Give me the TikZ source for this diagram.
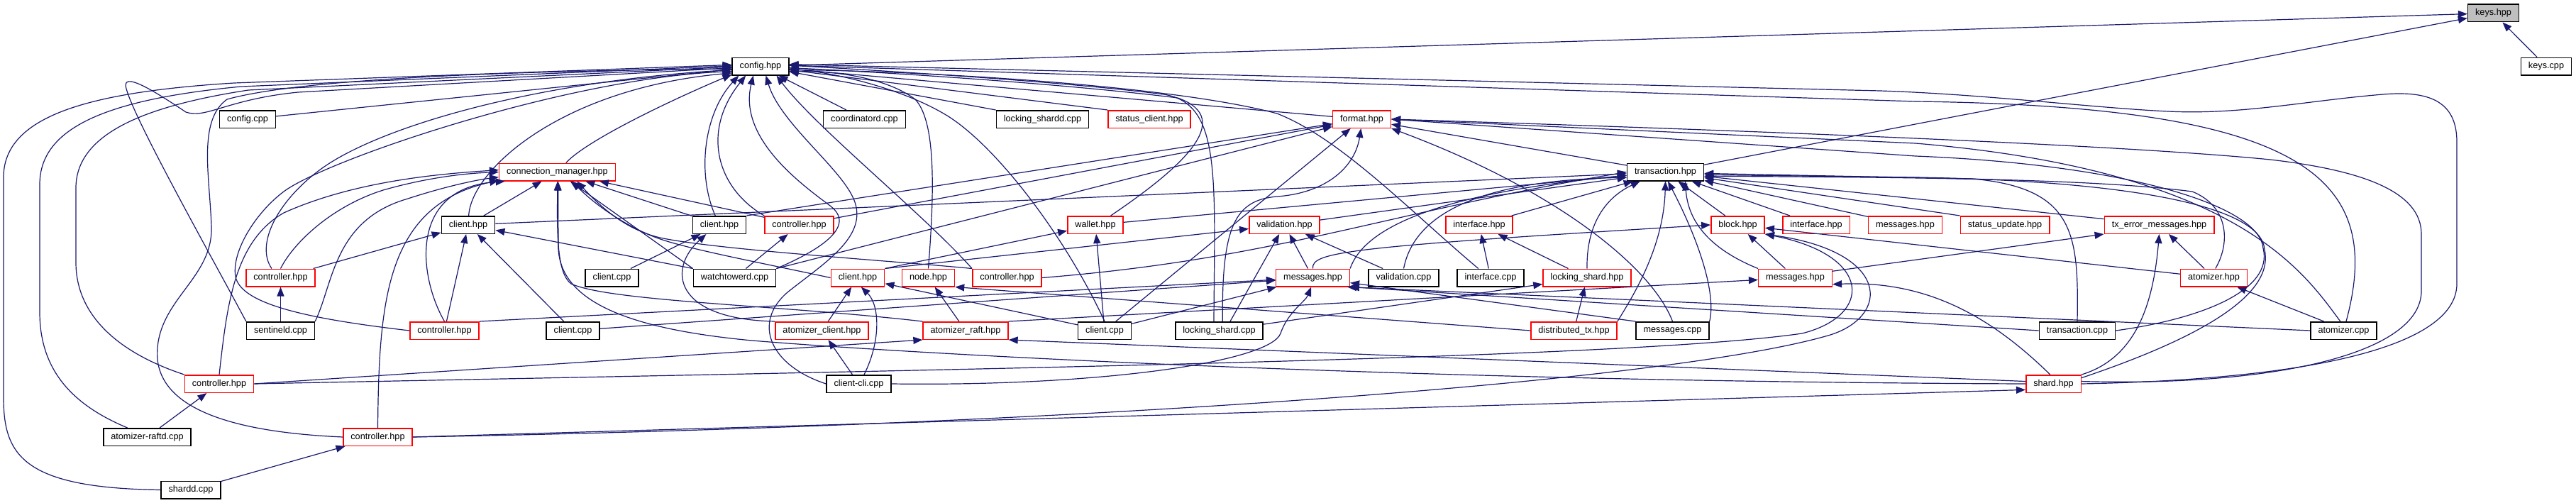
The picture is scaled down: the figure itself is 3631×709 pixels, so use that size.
\documentclass[tikz,border=0pt]{standalone}
\usepackage{fontspec}
\setmainfont{Liberation Sans}
\usepackage{tikz}
\usetikzlibrary{arrows.meta}
\definecolor{EdgeNavy}{HTML}{191970}
\definecolor{TruncRed}{HTML}{FF0000}
\definecolor{FocusGray}{HTML}{BFBFBF}
\newcommand{\filefont}{\fontsize{12.7pt}{15pt}\selectfont}

\begin{document}
\begin{tikzpicture}[
  x=1pt, y=-1pt,
  file/.style={draw=black, line width=1.5pt, fill=white, minimum height=24.5pt,
    inner xsep=10.5pt, inner ysep=0pt, font=\filefont},
  partial/.style={file, draw=TruncRed},
  focus/.style={file, fill=FocusGray},
  dep/.style={-{Triangle[length=13pt,width=10pt]}, line width=1.2pt, draw=EdgeNavy}
]
\path[fill=white, use as bounding box] (0,0) rectangle (3631,709);

\node[focus] (keyshpp) at (3514.5,18.5) {keys.hpp};
\node[file] (confighpp) at (1072,93.5) {config.hpp};
\node[file] (keyscpp) at (3589,93.5) {keys.cpp};

\node[file] (configcpp) at (349,168) {config.cpp};
\node[file] (coordcpp) at (1218.5,168) {coordinatord.cpp};
\node[file] (lshardd) at (1469.5,168) {locking\_shardd.cpp};
\node[partial] (statcli) at (1620,168) {status\_client.hpp};
\node[partial] (formathpp) at (1919.5,168) {format.hpp};

\node[partial] (connmgr) at (785.5,242.5) {connection\_manager.hpp};
\node[file] (txhpp) at (2347.5,242.5) {transaction.hpp};

\node[file] (clienta) at (660,317) {client.hpp};
\node[file] (clientb) at (1014,317) {client.hpp};
\node[partial] (ctrla) at (1126.5,317) {controller.hpp};
\node[partial] (wallet) at (1544,317) {wallet.hpp};
\node[partial] (valhpp) at (1810.5,317) {validation.hpp};
\node[partial] (ifacea) at (2085,317) {interface.hpp};
\node[partial] (blockhpp) at (2449.5,317) {block.hpp};
\node[partial] (ifaceb) at (2560,317) {interface.hpp};
\node[partial] (msga) at (2685.5,317) {messages.hpp};
\node[partial] (statupd) at (2826,317) {status\_update.hpp};
\node[partial] (txerr) at (3043.5,317) {tx\_error\_messages.hpp};

\node[partial] (ctrlb) at (395.5,391.5) {controller.hpp};
\node[file] (clicppa) at (862.5,391.5) {client.cpp};
\node[file] (watchcpp) at (1035.5,391.5) {watchtowerd.cpp};
\node[partial] (clientc) at (1209,391.5) {client.hpp};
\node[partial] (nodehpp) at (1308.5,391.5) {node.hpp};
\node[partial] (ctrlc) at (1419.5,391.5) {controller.hpp};
\node[partial] (msgb) at (1850.5,391.5) {messages.hpp};
\node[file] (valcpp) at (1978.5,391.5) {validation.cpp};
\node[file] (ifacecpp) at (2101,391.5) {interface.cpp};
\node[partial] (lshardhpp) at (2237,391.5) {locking\_shard.hpp};
\node[partial] (msgc) at (2530.5,391.5) {messages.hpp};
\node[partial] (atomhpp) at (3120.5,391.5) {atomizer.hpp};

\node[file] (sentcpp) at (395.5,466) {sentineld.cpp};
\node[partial] (ctrld) at (626.5,466) {controller.hpp};
\node[file] (clicppb) at (807.5,466) {client.cpp};
\node[partial] (atomcli) at (1158.5,466) {atomizer\_client.hpp};
\node[partial] (atomraft) at (1361,466) {atomizer\_raft.hpp};
\node[file] (clicppc) at (1557,466) {client.cpp};
\node[file] (lshardcpp) at (1718.5,466) {locking\_shard.cpp};
\node[partial] (disttx) at (2218.5,466) {distributed\_tx.hpp};
\node[file] (msgcpp) at (2357.5,466) {messages.cpp};
\node[file] (txcpp) at (2928,466) {transaction.cpp};
\node[file] (atomcpp) at (3303.5,466) {atomizer.cpp};

\node[partial] (ctrle) at (309,541) {controller.hpp};
\node[file] (clicli) at (1210.5,541) {client-cli.cpp};
\node[partial] (shardhpp) at (2894.5,541) {shard.hpp};

\node[file] (raftdcpp) at (207.5,616) {atomizer-raftd.cpp};
\node[partial] (ctrlf) at (532.5,616) {controller.hpp};

\node[file] (sharddcpp) at (269,690.5) {shardd.cpp};

% keys.hpp
\draw[dep] (keyscpp) -- (keyshpp);
\draw[dep] (confighpp) -- (keyshpp);
\draw[dep] (txhpp) -- (keyshpp);

% config.hpp
\draw[dep] (configcpp) -- (confighpp);
\draw[dep] (coordcpp) -- (confighpp);
\draw[dep] (lshardd.north west) -- (confighpp);
\draw[dep] (statcli.north west) -- (confighpp);
\draw[dep] (formathpp) -- (confighpp);
\draw[dep] (connmgr) .. controls (830,195) and (960,135) .. (confighpp.196);
\draw[dep] (clienta) .. controls (664,240) and (790,125) .. (confighpp.193);
\draw[dep] (clientb) .. controls (982,245) and (992,160) .. (confighpp.203);
\draw[dep] (ctrla.north west) .. controls (1010,265) and (988,185) .. (confighpp.212);
\draw[dep] (watchcpp.north east) .. controls (1150,355) and (1210,320) .. (1170,290)
  .. controls (1130,260) and (1040,195) .. (confighpp.232);
\draw[dep] (clicli.west) .. controls (1085,515) and (1060,455) .. (1110,412)
  .. controls (1160,372) and (1222,335) .. (1205,285)
  .. controls (1190,240) and (1100,175) .. (confighpp.300);
\draw[dep] (ctrlc.north west) .. controls (1300,300) and (1150,180) .. (confighpp.330);
\draw[dep] (nodehpp.north) .. controls (1318,260) and (1318,170) .. (1290,140)
  .. controls (1250,110) and (1180,100) .. (confighpp.350);
\draw[dep] (clicppc.north) .. controls (1500,330) and (1400,200) .. (1330,160)
  .. controls (1270,125) and (1180,103) .. (confighpp.355);
\draw[dep] (lshardcpp.120) .. controls (1712,250) and (1722,145) .. (1640,133)
  .. controls (1500,115) and (1250,100) .. (confighpp.2);
\draw[dep] (wallet.31) .. controls (1660,240) and (1745,168) .. (1660,138)
  .. controls (1500,118) and (1250,102) .. (confighpp.357);
\draw[dep] (ifacecpp.143) .. controls (1990,300) and (1890,195) .. (1800,160)
  .. controls (1650,120) and (1300,100) .. (confighpp.353);
\draw[dep] (shardhpp.east) .. controls (3250,535) and (3463,490) .. (3463,400) -- (3463,200)
  .. controls (3463,140) and (3420,128) .. (3359,133)
  .. controls (3250,142) and (3160,162) .. (3056,157)
  .. controls (2950,152) and (2800,133) .. (2650,128) -- (confighpp.4);
\draw[dep] (atomcpp.75) .. controls (3362,250) and (3250,150) .. (2700,143) -- (confighpp.2);
\draw[dep] (sharddcpp.west) .. controls (30,688) and (5,640) .. (5,560) -- (5,250)
  .. controls (5,165) and (120,130) .. (330,117) -- (confighpp.177);
\draw[dep] (raftdcpp.155) .. controls (100,570) and (56,520) .. (56,440) -- (56,260)
  .. controls (56,180) and (150,140) .. (340,122) -- (confighpp.179);
\draw[dep] (ctrle.north west) .. controls (160,495) and (107,440) .. (107,370) -- (107,265)
  .. controls (107,190) and (200,150) .. (350,127) -- (confighpp.181);
\draw[dep] (sentcpp.north west) .. controls (300,365) and (190,170) .. (178,125)
  .. controls (170,98) and (220,130) .. (262,158)
  .. controls (290,168) and (320,140) .. (420,130) -- (confighpp.183);
\draw[dep] (ctrlf.west) .. controls (300,608) and (215,565) .. (222,490)
  .. controls (228,420) and (300,390) .. (298,320)
  .. controls (296,250) and (278,170) .. (320,140)
  .. controls (420,112) and (700,100) .. (confighpp.185);
\draw[dep] (ctrlb.134) .. controls (360,345) and (390,285) .. (450,240)
  .. controls (530,180) and (750,115) .. (confighpp.187);
\draw[dep] (ctrld.west) .. controls (440,450) and (340,430) .. (332,390)
  .. controls (326,355) and (360,300) .. (400,270)
  .. controls (460,225) and (800,110) .. (confighpp.190);

% format.hpp
\draw[dep] (txhpp) -- (formathpp);
\draw[dep] (clientb.north east) -- (formathpp);
\draw[dep] (ctrla) -- (formathpp);
\draw[dep] (watchcpp.north east) -- (formathpp);
\draw[dep] (clicppc) -- (formathpp);
\draw[dep] (lshardcpp.70) .. controls (1722,320) and (1740,282) .. (1800,277)
  .. controls (1870,272) and (1910,235) .. (formathpp.265);
\draw[dep] (msgcpp.north) .. controls (2330,380) and (2200,270) .. (formathpp.south east);
\draw[dep] (shardhpp.5) .. controls (3200,545) and (3413,500) .. (3413,410) -- (3413,330)
  .. controls (3413,270) and (3330,240) .. (3200,225)
  .. controls (3000,205) and (2500,185) .. (formathpp.east);
\draw[dep] (atomcpp.110) .. controls (3245,380) and (3150,240) .. (2700,202) -- (formathpp.east);
\draw[dep] (txcpp.east) .. controls (3100,450) and (3205,410) .. (3190,350)
  .. controls (3185,290) and (3000,232) .. (2700,220) -- (formathpp.east);

% connection_manager.hpp
\draw[dep] (clienta) -- (connmgr);
\draw[dep] (clientb) -- (connmgr);
\draw[dep] (ctrla) -- (connmgr);
\draw[dep] (watchcpp.north west) -- (connmgr);
\draw[dep] (clientc.west) .. controls (1080,372) and (990,355) .. (940,340)
  .. controls (890,325) and (840,290) .. (connmgr.328);
\draw[dep] (ctrlc.north west) .. controls (1250,367) and (1010,352) .. (930,335)
  .. controls (880,323) and (845,290) .. (connmgr.335);
\draw[dep] (sentcpp.north east) .. controls (470,400) and (470,310) .. (575,280)
  .. controls (630,262) and (675,253) .. (connmgr.185);
\draw[dep] (ctrlb.north) .. controls (415,340) and (470,290) .. (540,268)
  .. controls (610,248) and (665,244) .. (connmgr.west);
\draw[dep] (ctrle.north) .. controls (320,430) and (330,340) .. (400,300)
  .. controls (500,255) and (620,245) .. (connmgr.178);
\draw[dep] (ctrld.north) .. controls (590,390) and (575,265) .. (connmgr.190);
\draw[dep] (ctrlf.north) .. controls (534,420) and (545,290) .. (connmgr.188);
\draw[dep] (atomraft.north west) .. controls (1100,430) and (860,425) .. (805,400)
  .. controls (785,385) and (785,330) .. (connmgr.272);
\draw[dep] (shardhpp.west) .. controls (2000,538) and (1300,500) .. (1060,480)
  .. controls (900,465) and (790,430) .. (787,350) -- (connmgr.275);

% transaction.hpp
\draw[dep] (clienta) -- (txhpp);
\draw[dep] (wallet) -- (txhpp);
\draw[dep] (valhpp) -- (txhpp);
\draw[dep] (ifacea) -- (txhpp);
\draw[dep] (ctrlc.east) .. controls (1800,365) and (1950,300) .. (txhpp.west);
\draw[dep] (msgb.north east) .. controls (1920,330) and (2000,275) .. (txhpp.185);
\draw[dep] (valcpp.north) .. controls (1990,320) and (2050,255) .. (txhpp.188);
\draw[dep] (lshardhpp.north) .. controls (2236,320) and (2260,280) .. (txhpp.200);
\draw[dep] (disttx.north east) .. controls (2300,420) and (2345,350) .. (txhpp.south);
\draw[dep] (msgcpp.north east) .. controls (2420,410) and (2390,330) .. (txhpp.285);
\draw[dep] (blockhpp) -- (txhpp);
\draw[dep] (msgc.north west) .. controls (2420,355) and (2380,320) .. (txhpp.335);
\draw[dep] (ifaceb) -- (txhpp);
\draw[dep] (msga) -- (txhpp);
\draw[dep] (statupd.north west) -- (txhpp);
\draw[dep] (txerr) -- (txhpp);
\draw[dep] (atomhpp.80) .. controls (3145,340) and (3140,290) .. (3090,270)
  .. controls (2950,252) and (2700,250) .. (txhpp.354);
\draw[dep] (txcpp.north) .. controls (2930,330) and (2925,265) .. (2780,252) -- (txhpp.358);
\draw[dep] (shardhpp.12) .. controls (3120,470) and (3205,410) .. (3192,352)
  .. controls (3188,290) and (3000,255) .. (2700,250) -- (txhpp.356);

% client.hpp, controller.hpp, wallet.hpp, validation.hpp, interface.hpp
\draw[dep] (ctrlb) -- (clienta);
\draw[dep] (ctrld) -- (clienta);
\draw[dep] (clicppb) -- (clienta);
\draw[dep] (watchcpp.north west) -- (clienta);
\draw[dep] (clicppa) -- (clientb);
\draw[dep] (atomcli.north west) .. controls (950,450) and (940,380) .. (clientb.215);
\draw[dep] (watchcpp) -- (ctrla);
\draw[dep] (clientc.north east) -- (wallet);
\draw[dep] (clicppc) -- (wallet);
\draw[dep] (clientc.north east) -- (valhpp);
\draw[dep] (valcpp) -- (valhpp);
\draw[dep] (msgb) -- (valhpp);
\draw[dep] (lshardcpp.40) -- (valhpp);
\draw[dep] (ifacecpp) -- (ifacea);
\draw[dep] (lshardhpp) -- (ifacea);

% block.hpp, tx_error_messages.hpp
\draw[dep] (msgb.north) .. controls (1848,355) and (1900,348) .. (blockhpp.west);
\draw[dep] (msgc) -- (blockhpp);
\draw[dep] (atomhpp) -- (blockhpp);
\draw[dep] (ctrle.east) .. controls (1400,520) and (2300,505) .. (2540,470)
  .. controls (2640,445) and (2640,360) .. (blockhpp.south east);
\draw[dep] (ctrlf.east) .. controls (1500,600) and (2350,540) .. (2580,472)
  .. controls (2665,445) and (2665,355) .. (blockhpp.south east);
\draw[dep] (msgc.10) -- (txerr.south west);
\draw[dep] (shardhpp.north east) .. controls (3010,505) and (3035,430) .. (txerr.south);
\draw[dep] (atomhpp) -- (txerr);

% second level headers
\draw[dep] (sentcpp) -- (ctrlb);
\draw[dep] (clicppb) -- (msgb);
\draw[dep] (ctrld.north east) -- (msgb);
\draw[dep] (clicppc) -- (msgb);
\draw[dep] (clicli.east) .. controls (1550,545) and (1790,510) .. (1805,470)
  .. controls (1815,440) and (1840,425) .. (msgb.260);
\draw[dep] (msgcpp.north west) -- (msgb);
\draw[dep] (atomcpp.west) -- (msgb.345);
\draw[dep] (txcpp.west) -- (msgb.south east);
\draw[dep] (disttx) -- (lshardhpp);
\draw[dep] (lshardcpp) -- (lshardhpp);
\draw[dep] (atomraft.north east) -- (msgc);
\draw[dep] (shardhpp.110) .. controls (2810,450) and (2720,395) .. (msgc.350);
\draw[dep] (atomcpp.155) -- (atomhpp);
\draw[dep] (clicli) -- (atomcli);
\draw[dep] (atomcli) -- (clientc);
\draw[dep] (clicli.60) .. controls (1242,480) and (1240,430) .. (clientc.290);
\draw[dep] (clicppc) -- (clientc);
\draw[dep] (atomraft) -- (nodehpp);
\draw[dep] (disttx.west) -- (nodehpp.south east);
\draw[dep] (ctrle.east) -- (atomraft.south west);
\draw[dep] (shardhpp.175) -- (atomraft.south east);
\draw[dep] (raftdcpp) -- (ctrle);
\draw[dep] (ctrlf.east) -- (shardhpp.192);
\draw[dep] (sharddcpp) -- (ctrlf);

\end{tikzpicture}
\end{document}
